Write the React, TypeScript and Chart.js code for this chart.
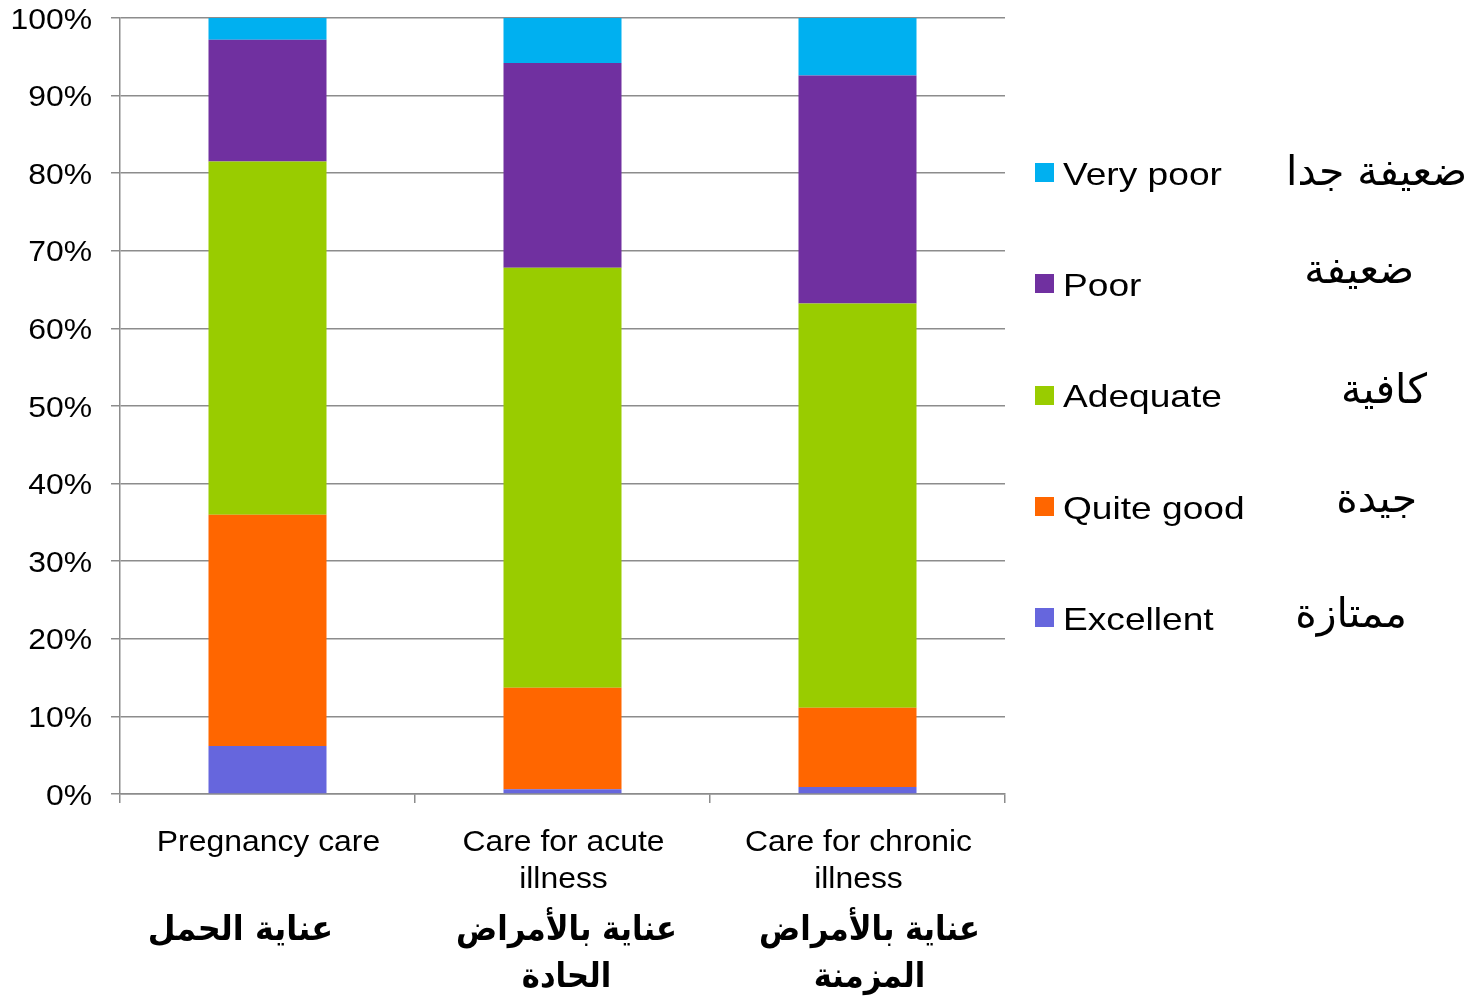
import React, { useEffect, useRef } from "react";
import { Chart, registerables } from "chart.js";

Chart.register(...registerables);

// ---- data ----
const categories = ["Pregnancy care", "Care for acute illness", "Care for chronic illness"];
const categoryLinesEn = [["Pregnancy care"], ["Care for acute", "illness"], ["Care for chronic", "illness"]];
const categoryLinesAr = [["عناية الحمل"], ["عناية بالأمراض", "الحادة"], ["عناية بالأمراض", "المزمنة"]];

const seriesNames = ["Excellent", "Quite good", "Adequate", "Poor", "Very poor"];
const seriesNamesAr = ["ممتازة", "جيدة", "كافية", "ضعيفة", "ضعيفة جدا"];

const excellent = [6.2, 0.6, 0.9];
const quiteGood = [29.8, 13.1, 10.2];
const adequate = [45.5, 54.1, 52.1];
const poor = [15.7, 26.4, 29.4];
const veryPoor = [2.8, 5.8, 7.4];

const yMin = 0;
const yMax = 100;
const yStep = 10;

// ---- styles / layout ----
const seriesColors = ["#6666DD", "#FF6600", "#99CC00", "#7030A0", "#00B0F0"];
const gridColor = "#8c8c8c";
const EN = "'Liberation Sans', Arial, Helvetica, sans-serif";
const AR = "'DejaVu Sans', sans-serif";

// arabic category label horizontal offsets (relative to category centre) and x-scale
const arCatOffset = [-27, 4, 12];
const arCatScale = [0.94, 0.9, 0.9];
// legend layout (top to bottom order: Very poor ... Excellent)
const legendBoxX = 1035;
const legendTextX = 1063;
const legendFirstY = 172.7;
const legendStep = 111.2;
const legendArRight = [1467, 1414, 1427, 1417, 1407];
const legendArBaseline = [185, 283, 403, 512, 627];

function drawText(
  ctx: CanvasRenderingContext2D,
  text: string,
  x: number,
  y: number,
  font: string,
  sx: number,
  align: CanvasTextAlign
) {
  ctx.save();
  ctx.font = font;
  ctx.fillStyle = "#000";
  ctx.textAlign = align;
  ctx.textBaseline = "alphabetic";
  ctx.translate(x, y);
  ctx.scale(sx, 1);
  ctx.fillText(text, 0, 0);
  ctx.restore();
}

const textPlugin = {
  id: "customText",
  afterDraw(chart: any) {
    const ctx: CanvasRenderingContext2D = chart.ctx;
    const ys = chart.scales.y;
    const xs = chart.scales.x;
    // y tick labels
    ys.ticks.forEach((t: any) => {
      const y = ys.getPixelForValue(t.value);
      drawText(ctx, `${t.value}%`, 92, y + 10.5, `29px ${EN}`, 1.1, "right");
    });
    // x labels
    categories.forEach((_, i) => {
      const cx = xs.getPixelForValue(i);
      categoryLinesEn[i].forEach((line, j) => {
        drawText(ctx, line, cx + 1, 851 + j * 37, `29px ${EN}`, 1.1, "center");
      });
      categoryLinesAr[i].forEach((line, j) => {
        drawText(ctx, line, cx + arCatOffset[i], 940 + j * 47, `bold 34px ${AR}`, arCatScale[i], "center");
      });
    });
    // legend
    const ds = chart.data.datasets.slice().reverse();
    ds.forEach((d: any, k: number) => {
      const cy = legendFirstY + k * legendStep;
      ctx.save();
      ctx.fillStyle = d.backgroundColor;
      ctx.fillRect(legendBoxX, Math.round(cy - 9.5), 19, 19);
      ctx.restore();
      drawText(ctx, d.label, legendTextX, cy + 12.3, `32px ${EN}`, 1.16, "left");
      const arIdx = seriesNames.length - 1 - k;
      drawText(ctx, seriesNamesAr[arIdx], legendArRight[k], legendArBaseline[k], `41px ${AR}`, 1.0, "right");
    });
  },
};

export default function App() {
  const ref = useRef<HTMLCanvasElement | null>(null);
  useEffect(() => {
    if (!ref.current) return;
    const values = [excellent, quiteGood, adequate, poor, veryPoor];
    const chart = new Chart(ref.current, {
      type: "bar",
      data: {
        labels: categories,
        datasets: seriesNames.map((name, i) => ({
          label: name,
          data: values[i],
          backgroundColor: seriesColors[i],
          borderWidth: 0,
          categoryPercentage: 0.8,
          barPercentage: 0.5,
        })),
      },
      options: {
        responsive: false,
        animation: false,
        devicePixelRatio: 1,
        layout: { padding: { left: 0, top: 18, right: 468, bottom: 0 } },
        plugins: {
          legend: { display: false },
          tooltip: { enabled: false },
          title: { display: false },
        },
        scales: {
          x: {
            stacked: true,
            ticks: { display: false },
            grid: {
              offset: true,
              drawOnChartArea: false,
              drawTicks: true,
              tickLength: 9,
              color: gridColor,
              lineWidth: 1.5,
            },
            border: { color: gridColor, width: 1.5 },
            afterFit: (s: any) => {
              s.height = 998 - 794;
            },
          },
          y: {
            stacked: true,
            min: yMin,
            max: yMax,
            ticks: { display: false, stepSize: yStep },
            grid: { color: gridColor, tickLength: 9, drawTicks: true, lineWidth: 1.5 },
            border: { color: gridColor, width: 1.5 },
            afterFit: (s: any) => {
              s.width = 120;
            },
          },
        },
      },
      plugins: [textPlugin],
    });
    return () => chart.destroy();
  }, []);
  return (
    <div style={{ position: "fixed", left: 0, top: 0, width: 1473, height: 998, background: "#fff" }}>
      <canvas ref={ref} width={1473} height={998} style={{ width: 1473, height: 998, display: "block" }} />
    </div>
  );
}
